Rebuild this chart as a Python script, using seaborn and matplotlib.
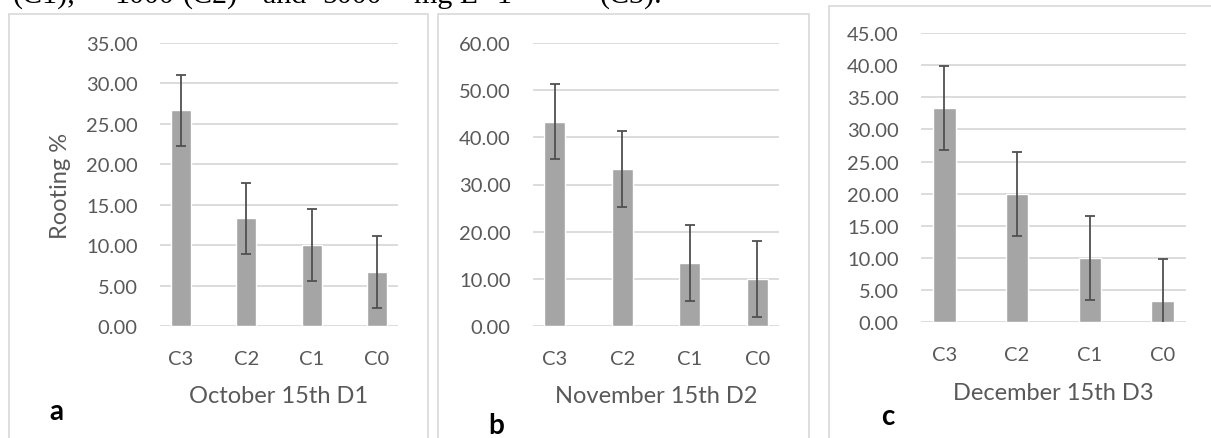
import numpy as np
import pandas as pd
import matplotlib
matplotlib.use("Agg")
import matplotlib.pyplot as plt
from matplotlib.patches import Rectangle
import seaborn as sns

# dati
categorie = ["C3", "C2", "C1", "C0"]
ott_valori = [26.67, 13.33, 10.00, 6.67]
ott_err = [4.41, 4.41, 4.41, 4.41]
nov_valori = [43.33, 33.33, 13.33, 10.00]
nov_err = [8.0, 8.0, 8.0, 8.0]
dic_valori = [33.33, 20.00, 10.00, 3.33]
dic_err = [6.5, 6.5, 6.5, 6.5]
titoli_x = ["October 15th D1", "November 15th D2", "December 15th D3"]
lettere = ["a", "b", "c"]
yticks_max = [35, 60, 45]
yticks_passo = [5, 10, 5]

sns.set_style("white")
plt.rcParams['font.family'] = ['Lato', 'DejaVu Sans']

W, H = 1211, 439
fig = plt.figure(figsize=(W / 100, H / 100), dpi=100)

grigio_testo = "#595959"

def px(x0, y0, x1, y1):
    # pixel -> frazione di figura (left, bottom, width, height)
    return [x0 / W, 1 - y1 / H, (x1 - x0) / W, (y1 - y0) / H]

# cornici dei pannelli
for (x0, y0, x1) in [(9, 15, 428), (438, 15, 809), (829, 7, 1215)]:
    fig.patches.append(Rectangle((x0 / W, -0.05), (x1 - x0) / W, 1.05 - y0 / H,
                                 transform=fig.transFigure, fill=False,
                                 edgecolor="#D9D9D9", linewidth=1.2))

assi = [px(160, 44, 398, 327), px(533, 44, 779, 327), px(921, 34, 1186, 323.3)]
valori = [ott_valori, nov_valori, dic_valori]
errori = [ott_err, nov_err, dic_err]
pos_lettere = [(56, 412), (496, 426), (888, 417)]
xlab_y = [-0.247, -0.247, -0.244]

for i in range(3):
    ax = fig.add_axes(assi[i])
    df = pd.DataFrame({"cat": categorie, "val": valori[i]})
    sns.barplot(data=df, x="cat", y="val", color="#A5A5A5", saturation=1,
                width=0.31, ax=ax)
    ax.errorbar(np.arange(len(categorie)), valori[i], yerr=errori[i], fmt="none",
                ecolor="#505050", elinewidth=1.3, capsize=3.8, capthick=1.3)
    ax.set_ylim(0, yticks_max[i])
    ax.set_yticks(np.arange(0, yticks_max[i] + 0.1, yticks_passo[i]))
    ax.set_yticklabels([f"{v:.2f}" for v in ax.get_yticks()])
    ax.yaxis.grid(True, color="#D9D9D9", linewidth=1.3)
    ax.set_axisbelow(True)
    for s in ax.spines.values():
        s.set_visible(False)
    ax.tick_params(axis="both", length=0, labelsize=14.5, labelcolor=grigio_testo)
    ax.tick_params(axis="y", pad=16)
    ax.tick_params(axis="x", pad=17)
    ax.set_xlabel(titoli_x[i], fontsize=17, color=grigio_testo)
    ax.xaxis.set_label_coords(0.5, xlab_y[i])
    ax.xaxis.label.set_va("center")
    if i == 0:
        ax.set_ylabel("Rooting %", fontsize=17, color=grigio_testo)
        ax.yaxis.set_label_coords(-0.42, 0.5)
        ax.yaxis.label.set_va("center")
    else:
        ax.set_ylabel("")
    lx, ly = pos_lettere[i]
    fig.text(lx / W, 1 - ly / H, lettere[i], fontsize=20, fontweight="bold",
             ha="center", va="center", color="black")

# riga di didascalia tagliata in alto
parole = [("(C1),", 13), ("1000", 114), ("(C2)", 183), ("and", 263),
          ("5000", 322), ("mg L", 414), ("\u22121", 480), ("(C3).", 600)]
for testo, xp in parole:
    fig.text(xp / W, 1 - 3 / H, testo, fontsize=21.6, family="Liberation Serif",
             ha="left", va="baseline", color="black")

fig.savefig("out.png", dpi=100)
